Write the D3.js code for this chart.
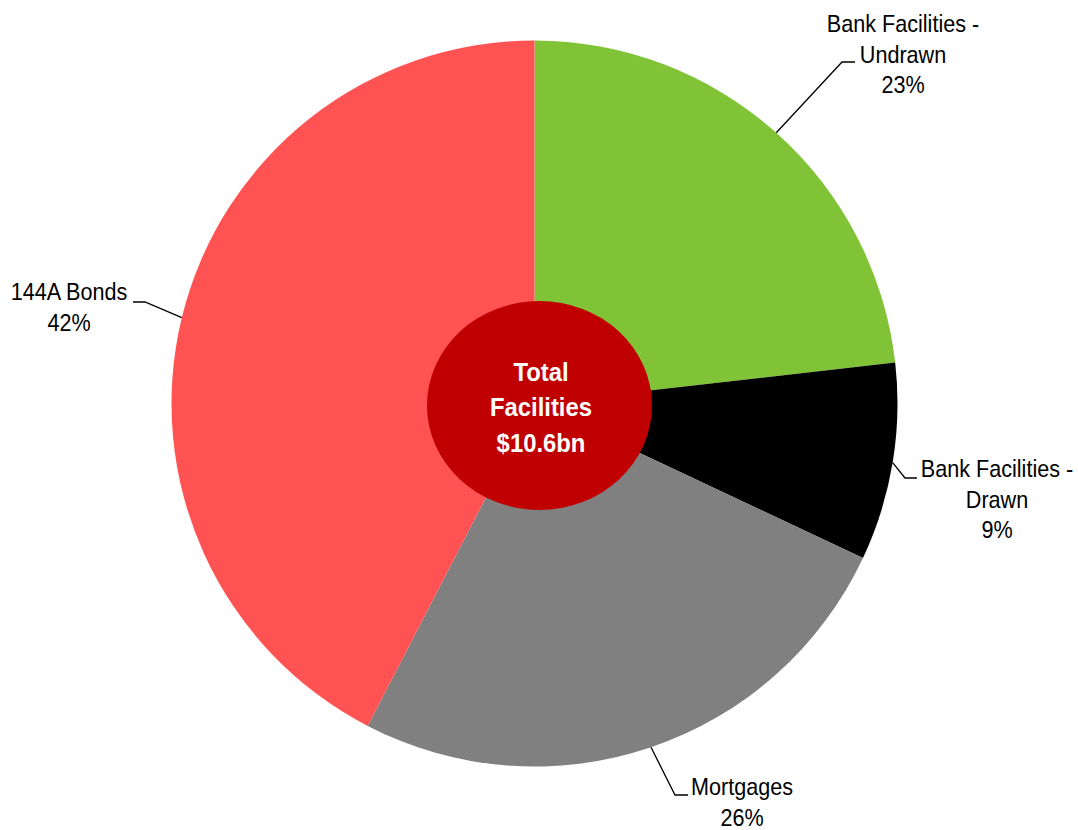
<!DOCTYPE html>
<html>
<head>
<meta charset="utf-8">
<script src="https://cdn.jsdelivr.net/npm/d3@7"></script>
<style>
  body { margin: 0; background: #fff; }
  text { font-family: "Liberation Sans", Arial, sans-serif; }
</style>
</head>
<body>
<div id="chart"></div>
<script>
// Chart data (share of total facilities, %)
const categories = ["Bank Facilities - Undrawn", "Bank Facilities - Drawn", "Mortgages", "144A Bonds"];
const values = [23.2, 8.8, 25.6, 42.4];
const labelLines = [
  ["Bank Facilities -", "Undrawn", "23%"],
  ["Bank Facilities -", "Drawn", "9%"],
  ["Mortgages", "26%"],
  ["144A Bonds", "42%"]
];
const colors = ["#80C337", "#000000", "#808080", "#FF5252"];
const centreLines = ["Total", "Facilities", "$10.6bn"];

// Layout
const width = 1078, height = 830;
const cx = 534.5, cy = 403.5, radius = 363;

// label placement: text centre x, first baseline y, elbow and end of leader
const labelLayout = [
  {tx: 903, ty: 32, elbow: [842, 62], end: [855, 62]},
  {tx: 997, ty: 477, elbow: [905, 478], end: [917, 478]},
  {tx: 742, ty: 795, elbow: [675, 795], end: [688, 795]},
  {tx: 69, ty: 300, elbow: [145, 302], end: [133, 302]}
];

const svg = d3.select("#chart")
    .append("svg")
    .attr("width", width)
    .attr("height", height);

const g = svg.append("g")
    .attr("transform", `translate(${cx},${cy})`);

const pie = d3.pie().sort(null).value(d => d);
const arcs = pie(values);

const arc = d3.arc().innerRadius(0).outerRadius(radius);

g.selectAll("path")
    .data(arcs)
    .enter()
    .append("path")
    .attr("d", arc)
    .attr("fill", (d, i) => colors[i]);

// Leader lines from slice mid-point on the rim
const leaders = svg.append("g");
arcs.forEach((d, i) => {
  const a = (d.startAngle + d.endAngle) / 2;
  const p0 = [cx + radius * Math.sin(a), cy - radius * Math.cos(a)];
  const L = labelLayout[i];
  leaders.append("polyline")
      .attr("points", [p0, L.elbow, L.end].map(p => p.join(",")).join(" "))
      .attr("fill", "none")
      .attr("stroke", "#000")
      .attr("stroke-width", 1.3);
});

// Labels
labelLines.forEach((lines, i) => {
  const L = labelLayout[i];
  const t = svg.append("text")
      .attr("transform", `translate(${L.tx},${L.ty}) scale(0.9,1)`)
      .attr("text-anchor", "middle")
      .style("font-size", "24px")
      .attr("fill", "#000");
  lines.forEach((s, j) => {
    t.append("tspan").attr("x", 0).attr("y", j * 30.7).text(s);
  });
});

// Centre ellipse
svg.append("ellipse")
    .attr("cx", 539.5)
    .attr("cy", 405.5)
    .attr("rx", 112.5)
    .attr("ry", 104.5)
    .attr("fill", "#C00000");

const ct = svg.append("text")
    .attr("transform", `translate(541,381) scale(0.9,1)`)
    .attr("text-anchor", "middle")
    .style("font-size", "26.5px")
    .style("font-weight", "bold")
    .attr("fill", "#fff");
centreLines.forEach((s, j) => {
  ct.append("tspan").attr("x", 0).attr("y", j * 35.5).text(s);
});
</script>
</body>
</html>
